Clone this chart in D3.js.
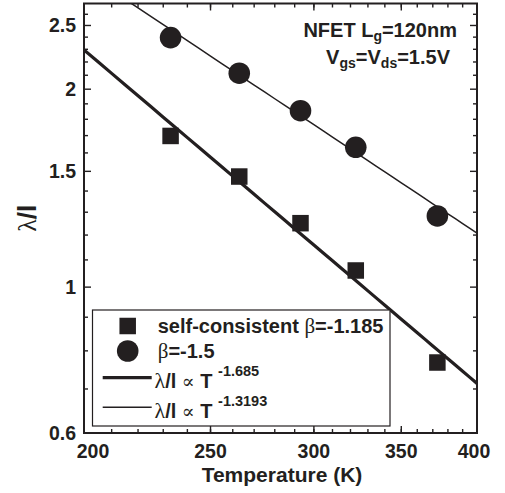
<!DOCTYPE html>
<html><head><meta charset="utf-8">
<script src="https://cdnjs.cloudflare.com/ajax/libs/d3/7.8.5/d3.min.js"></script>
<style>
body{margin:0;background:#fff;}
text{font-family:"Liberation Sans",Arial,sans-serif;font-weight:bold;fill:#231f20;}
</style></head><body>
<svg id="c" width="505" height="493"></svg>
<script>
const temperatures = [233, 263, 293, 323, 373];
const selfConsistent = [1.698, 1.473, 1.251, 1.060, 0.768];
const betaMinus15 = [2.396, 2.115, 1.855, 1.632, 1.283];
const fitThick = {prefactor200: 2.295, exponent: -1.685};
const fitThin = {prefactor200: 3.015, exponent: -1.3193};
const xTicks = [200, 250, 300, 350, 400];
const xMinor = d3.range(210, 400, 10);
const yTicks = [0.6, 1, 1.5, 2, 2.5];
const yMinor = [0.7,0.8,0.9,1.1,1.2,1.3,1.4,1.6,1.7,1.8,1.9,2.1,2.2,2.3,2.4,2.6];

const ink = "#231f20";
const m = {l:84, r:477, t:3.5, b:433};
const svg = d3.select("#c");
const x = d3.scaleLog().domain([200,400]).range([m.l,m.r]);
const y = d3.scaleLog().domain([0.6,2.7]).range([m.b,m.t]);

const plot = svg.append("g");
plot.append("clipPath").attr("id","clip").append("rect")
  .attr("x",m.l).attr("y",m.t).attr("width",m.r-m.l).attr("height",m.b-m.t);

function fitLine(f){
  return d3.range(200, 401, 5).map(T => [T, f.prefactor200*Math.pow(T/200, f.exponent)]);
}
const line = d3.line().x(d=>x(d[0])).y(d=>y(d[1]));
plot.append("path").attr("clip-path","url(#clip)").attr("d", line(fitLine(fitThick)))
  .attr("fill","none").attr("stroke",ink).attr("stroke-width",3.2);
plot.append("path").attr("clip-path","url(#clip)").attr("d", line(fitLine(fitThin)))
  .attr("fill","none").attr("stroke",ink).attr("stroke-width",1.5);

const sq = 16.5, cr = 10.8;
plot.selectAll("rect.sq").data(temperatures).enter().append("rect")
  .attr("x",(d)=>x(d)-sq/2).attr("y",(d,i)=>y(selfConsistent[i])-sq/2)
  .attr("width",sq).attr("height",sq).attr("fill",ink);
plot.selectAll("circle.ci").data(temperatures).enter().append("circle")
  .attr("cx",d=>x(d)).attr("cy",(d,i)=>y(betaMinus15[i])).attr("r",cr).attr("fill",ink);

const majL = 7, minL = 4;
function ticksH(vals, len, ypos, dir){
  svg.append("g").selectAll("line").data(vals).enter().append("line")
    .attr("x1",d=>x(d)).attr("x2",d=>x(d)).attr("y1",ypos).attr("y2",ypos+dir*len)
    .attr("stroke",ink).attr("stroke-width",1.4);
}
function ticksV(vals, len, xpos, dir){
  svg.append("g").selectAll("line").data(vals).enter().append("line")
    .attr("y1",d=>y(d)).attr("y2",d=>y(d)).attr("x1",xpos).attr("x2",xpos+dir*len)
    .attr("stroke",ink).attr("stroke-width",1.4);
}
ticksH(xTicks, majL, m.b, -1); ticksH(xMinor, minL, m.b, -1);
ticksH(xTicks, majL, m.t, 1); ticksH(xMinor, minL, m.t, 1);
ticksV(yTicks, majL, m.l, 1); ticksV(yMinor, minL, m.l, 1);
ticksV(yTicks, majL, m.r, -1); ticksV(yMinor, minL, m.r, -1);

svg.append("rect").attr("x",m.l).attr("y",m.t).attr("width",m.r-m.l).attr("height",m.b-m.t)
  .attr("fill","none").attr("stroke",ink).attr("stroke-width",2);

const fs = 19.5;
svg.append("g").selectAll("text").data(xTicks).enter().append("text")
  .attr("x",(d,i)=>x(d) + (i===0?9:(i===xTicks.length-1?-3:0)))
  .attr("y",458).attr("text-anchor","middle").attr("font-size",fs).text(d=>d);
svg.append("g").selectAll("text").data(yTicks).enter().append("text")
  .attr("x",76).attr("y",d=>y(d)+7).attr("text-anchor","end").attr("font-size",fs).text(d=>d);

svg.append("text").attr("x",282).attr("y",482).attr("text-anchor","middle")
  .attr("font-size",21).text("Temperature (K)");
const serif = "'Liberation Serif','DejaVu Serif',serif";
const yl = svg.append("text").attr("transform","translate(36,"+((m.t+m.b)/2)+") rotate(-90)")
  .attr("text-anchor","middle").attr("font-size",26);
yl.append("tspan").style("font-family",serif).style("font-weight","normal").text("λ");
yl.append("tspan").text("/l");

const a1 = svg.append("text").attr("x",457).attr("y",37).attr("text-anchor","end").attr("font-size",20);
a1.append("tspan").text("NFET L");
a1.append("tspan").attr("font-size",14).attr("dy",4).text("g");
a1.append("tspan").attr("dy",-4).text("=120nm");
const a2 = svg.append("text").attr("x",450).attr("y",63.5).attr("text-anchor","end").attr("font-size",20);
a2.append("tspan").text("V");
a2.append("tspan").attr("font-size",14).attr("dy",4).text("gs");
a2.append("tspan").attr("dy",-4).text("=V");
a2.append("tspan").attr("font-size",14).attr("dy",4).text("ds");
a2.append("tspan").attr("dy",-4).text("=1.5V");

const lg = svg.append("g");
lg.append("rect").attr("x",92.5).attr("y",310).attr("width",297.5).attr("height",116)
  .attr("fill","#fff").attr("stroke",ink).attr("stroke-width",1.2);
lg.append("rect").attr("x",127.7-sq/2).attr("y",326-sq/2).attr("width",sq).attr("height",sq).attr("fill",ink);
lg.append("circle").attr("cx",127.7).attr("cy",351).attr("r",cr).attr("fill",ink);
lg.append("line").attr("x1",102.7).attr("x2",151.7).attr("y1",377.7).attr("y2",377.7).attr("stroke",ink).attr("stroke-width",3.2);
lg.append("line").attr("x1",102.7).attr("x2",151.7).attr("y1",407.3).attr("y2",407.3).attr("stroke",ink).attr("stroke-width",1.5);
const lf = 20;
const t1 = lg.append("text").attr("x",157.7).attr("y",333).attr("font-size",lf);
t1.append("tspan").text("self-consistent ");
t1.append("tspan").style("font-family",serif).style("font-weight","normal").attr("font-size",21).text("β");
t1.append("tspan").text("=-1.185");
const t2 = lg.append("text").attr("x",157.7).attr("y",358).attr("font-size",lf);
t2.append("tspan").style("font-family",serif).style("font-weight","normal").attr("font-size",21).text("β");
t2.append("tspan").text("=-1.5");
function fitLabel(yb, expo){
  const t = lg.append("text").attr("x",154.5).attr("y",yb).attr("font-size",lf);
  t.append("tspan").style("font-family",serif).style("font-weight","normal").attr("font-size",22).text("λ");
  t.append("tspan").text("/l ");
  t.append("tspan").style("font-family",serif).style("font-weight","normal").attr("font-size",19).text("∝");
  t.append("tspan").text(" T ");
  t.append("tspan").attr("font-size",14.5).attr("dy",-12).text(expo);
}
fitLabel(388, "-" + Math.abs(fitThick.exponent));
fitLabel(417.5, "-" + Math.abs(fitThin.exponent));
</script></body></html>
